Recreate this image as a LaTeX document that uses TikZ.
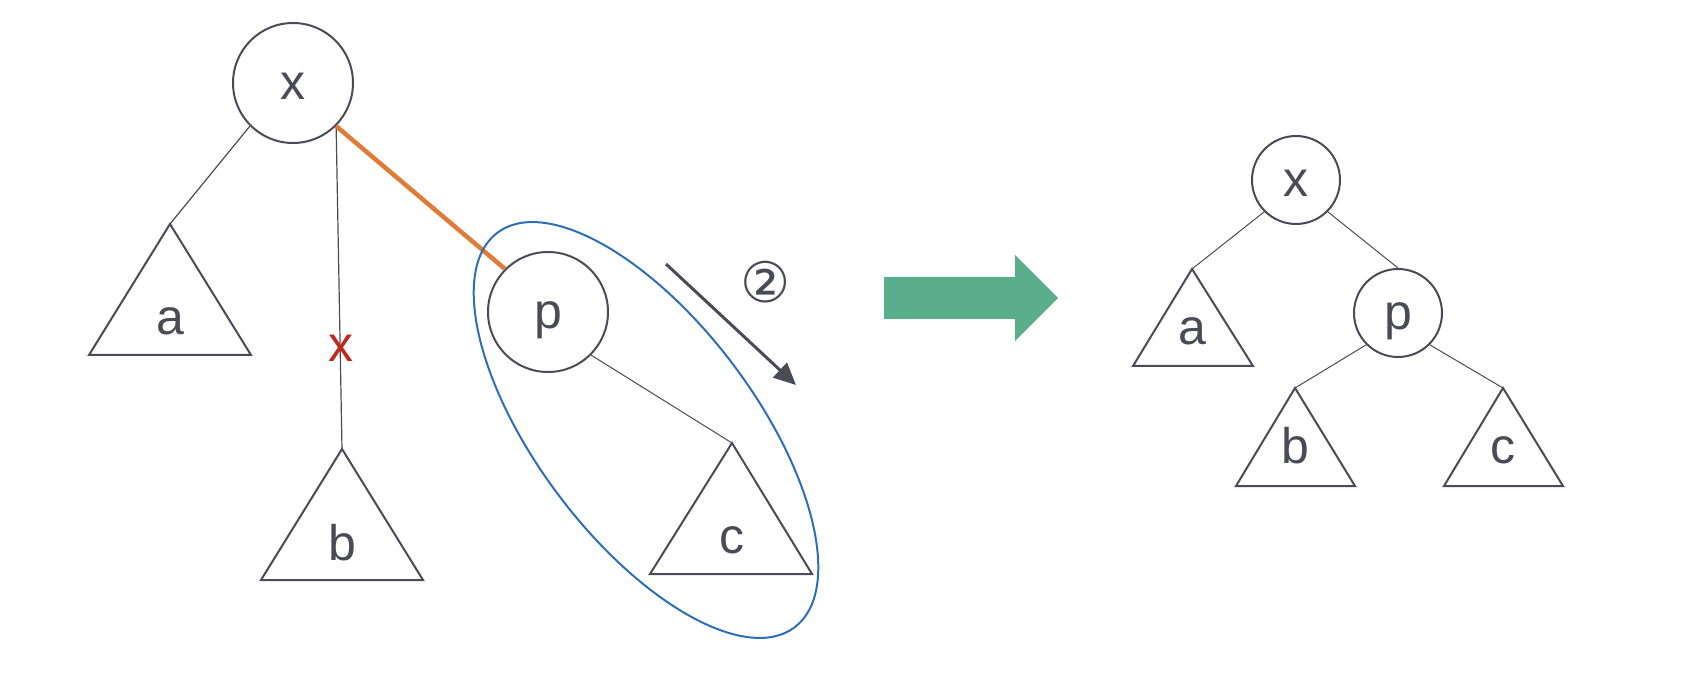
\documentclass[tikz,border=0pt]{standalone}
\usepackage{fontspec}
\setmainfont{Liberation Sans}
\newfontfamily\symfont{DejaVu Sans}
\usetikzlibrary{arrows.meta,shapes.geometric}
\definecolor{ink}{RGB}{75,75,87}
\definecolor{cutred}{RGB}{192,40,30}
\definecolor{edgeorange}{RGB}{224,124,56}
\definecolor{groupblue}{RGB}{46,110,185}
\definecolor{bigarrow}{RGB}{90,174,140}
\begin{document}
\begin{tikzpicture}[x=1pt,y=-1pt,
  bignode/.style={circle,draw=ink,line width=2pt,minimum size=120pt,inner sep=0pt,text=ink,font=\fontsize{50}{60}\selectfont,text height=34pt,text depth=0pt},
  smallnode/.style={bignode,minimum size=88pt},
  tri/.style={draw=ink,line width=2pt,line join=miter},
  edge/.style={draw=ink,line width=1.2pt},
  lbl/.style={anchor=base,text=ink,font=\fontsize{50}{60}\selectfont,inner sep=0pt}]
\useasboundingbox (0,0) rectangle (1708,692);
% ---------- left tree ----------
\node[bignode] (x1) at (293,83) {x};
\node[bignode] (p1) at (548,312) {p};
\coordinate (a1t) at (170,224);
\coordinate (b1t) at (342,449);
\coordinate (c1t) at (732,443);
\draw[tri] (a1t) -- (89,355) -- (251,355) -- cycle;
\draw[tri] (b1t) -- (261,580) -- (423,580) -- cycle;
\draw[tri] (c1t) -- (650,574) -- (812,574) -- cycle;
\node[lbl] (a1) at (170,335) {a};
\node[lbl] (b1) at (342,560) {b};
\node[lbl] (c1) at (732,553) {c};
\draw[edge] (x1.-135) -- (a1t);
\draw[edge] (x1.-45) -- (b1t);
\draw[draw=edgeorange,line width=4.5pt] (x1.-45) -- (p1.135);
\draw[edge,line width=1pt] (p1.-45) -- (c1t);
\node[lbl,text=cutred] (cut) at (341,362) {x};
\node[ellipse,draw=groupblue,line width=2pt,minimum width=494pt,minimum height=218pt,inner sep=0pt,rotate=-53] (grp) at (646,430) {};
\coordinate (arS) at (666,264);
\coordinate (arE) at (796,385);
\draw[draw=ink,line width=3pt,-{Triangle[length=22pt,width=20pt]}] (arS) -- (arE);
\node[text=ink,font=\symfont\fontsize{56}{66}\selectfont,inner sep=0pt] (two) at (766,282) {②};
% ---------- big arrow ----------
\fill[bigarrow] (884,277) -- (1015,277) -- (1015,255) -- (1058,298) -- (1015,341) -- (1015,319) -- (884,319) -- cycle;
% ---------- right tree ----------
\node[smallnode] (x2) at (1296,180) {x};
\node[smallnode] (p2) at (1398,313) {p};
\coordinate (a2t) at (1192,269);
\coordinate (b2t) at (1295,388);
\coordinate (c2t) at (1503,388);
\draw[tri] (a2t) -- (1133,366) -- (1253,366) -- cycle;
\draw[tri] (b2t) -- (1236,486) -- (1355,486) -- cycle;
\draw[tri] (c2t) -- (1444,486) -- (1563,486) -- cycle;
\node[lbl] (a2) at (1192,345) {a};
\node[lbl] (b2) at (1295,463) {b};
\node[lbl] (c2) at (1503,463) {c};
\draw[edge,line width=1pt] (x2.-135) -- (a2t);
\draw[edge,line width=1pt] (x2.-45) -- (p2.north);
\draw[edge,line width=1pt] (p2.-135) -- (b2t);
\draw[edge,line width=1pt] (p2.-45) -- (c2t);
\end{tikzpicture}
\end{document}
